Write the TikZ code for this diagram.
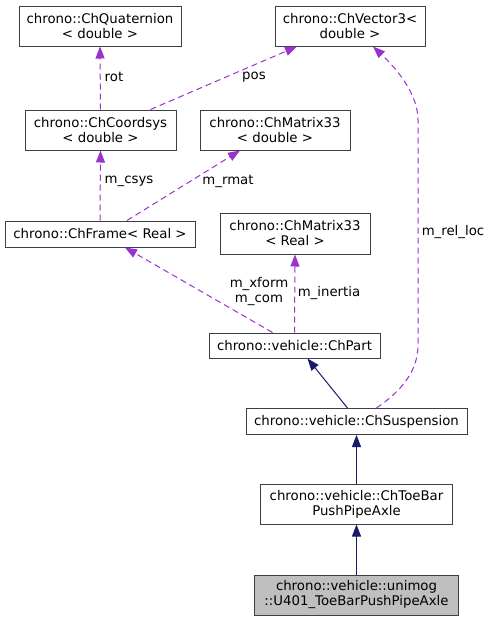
\documentclass[tikz,border=0pt]{standalone}
\usepackage{fontspec}
\setmainfont{DejaVu Sans}
\usetikzlibrary{arrows.meta}
\definecolor{depc}{HTML}{9A32CD}
\definecolor{inhc}{HTML}{191970}
\definecolor{boxc}{HTML}{404040}
\definecolor{selc}{HTML}{BFBFBF}
\begin{document}
\begin{tikzpicture}[x=1pt,y=-1pt,
  cls/.style={draw=boxc,line width=1pt,fill=white,inner sep=0pt,align=center,
    font=\fontsize{13.3}{15}\selectfont},
  dep/.style={depc,dashed,dash pattern=on 6pt off 4pt,line width=1pt,
    -{Triangle[length=12pt,width=9pt,fill=depc]}},
  inh/.style={inhc,line width=1pt,-{Triangle[length=12pt,width=9pt,fill=inhc]}},
  lbl/.style={font=\fontsize{13.3}{15}\selectfont,inner sep=0pt,align=center}]
\useasboundingbox[fill=white] (0,0) rectangle (491,621);
\node[cls,minimum width=162pt,minimum height=40pt] (quat) at (100,26) {chrono::ChQuaternion\\< double >};
\node[cls,minimum width=150pt,minimum height=40pt] (vec) at (350,26) {chrono::ChVector3<\\double >};
\node[cls,minimum width=151pt,minimum height=40pt] (csys) at (100.5,130) {chrono::ChCoordsys\\< double >};
\node[cls,minimum width=150pt,minimum height=40pt] (m33d) at (275,130) {chrono::ChMatrix33\\< double >};
\node[cls,minimum width=190pt,minimum height=26pt] (frame) at (100,234) {chrono::ChFrame< Real >};
\node[cls,minimum width=150pt,minimum height=41pt] (m33r) at (295,233.5) {chrono::ChMatrix33\\< Real >};
\node[cls,minimum width=171pt,minimum height=25pt] (part) at (294.5,345.5) {chrono::vehicle::ChPart};
\node[cls,minimum width=221pt,minimum height=26pt] (susp) at (356.5,421.5) {chrono::vehicle::ChSuspension};
\node[cls,minimum width=192pt,minimum height=40pt] (toebar) at (356.5,504) {chrono::vehicle::ChToeBar\\PushPipeAxle};
\node[cls,fill=selc,minimum width=204pt,minimum height=40pt] (u401) at (356.5,595) {chrono::vehicle::unimog\\::U401\_ToeBarPushPipeAxle};

% dependencies
\draw[dep] (csys.north) -- (quat.south);
\node[lbl] (lrot) at (114,77) {rot};
\draw[dep] ([xshift=50pt]csys.north) -- ([xshift=-53pt]vec.south);
\node[lbl] (lpos) at (254,77) {pos};
\draw[dep] ([xshift=20pt]susp.north) .. controls (400,392) and (418,372) .. (418,345)
  -- (418,120) .. controls (418,95) and (398,70) .. ([xshift=23pt]vec.south);
\node[lbl] (lrel) at (453,232) {m\_rel\_loc};
\draw[dep] (frame.north) -- (csys.south);
\node[lbl] (lcsys) at (129,181) {m\_csys};
\draw[dep] ([xshift=27pt]frame.north) -- ([xshift=-35pt]m33d.south);
\node[lbl] (lrmat) at (228,181) {m\_rmat};
\draw[dep] ([xshift=-22pt]part.north) -- ([xshift=25pt]frame.south);
\node[lbl] (lxf) at (259,292) {m\_xform\\m\_com};
\draw[dep] (part.north) -- (m33r.south);
\node[lbl] (lin) at (329,293) {m\_inertia};

% inheritance
\draw[inh] ([xshift=-9pt]susp.north) -- ([xshift=13pt]part.south);
\draw[inh] (toebar.north) -- (susp.south);
\draw[inh] (u401.north) -- (toebar.south);
\end{tikzpicture}
\end{document}
